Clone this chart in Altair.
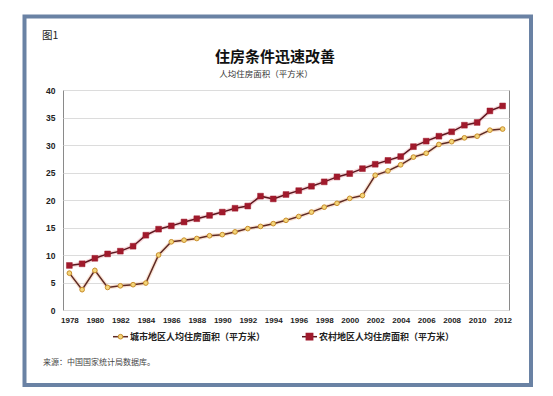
import altair as alt
import pandas as pd

years = list(range(1978, 2013))
urban = [6.7, 3.7, 7.2, 4.1, 4.4, 4.6, 4.9, 10.0, 12.4, 12.7, 13.0, 13.5, 13.7, 14.2, 14.8,
         15.2, 15.7, 16.3, 17.0, 17.8, 18.7, 19.4, 20.3, 20.8, 24.5, 25.3, 26.4, 27.8, 28.5,
         30.1, 30.6, 31.3, 31.6, 32.7, 32.9]
rural = [8.1, 8.4, 9.4, 10.2, 10.7, 11.6, 13.6, 14.7, 15.3, 16.0, 16.6, 17.2, 17.8, 18.5, 18.9,
         20.7, 20.2, 21.0, 21.7, 22.5, 23.3, 24.2, 24.8, 25.7, 26.5, 27.2, 27.9, 29.7, 30.7,
         31.6, 32.4, 33.6, 34.1, 36.2, 37.1]
series_names = ["城市地区人均住房面积（平方米）", "农村地区人均住房面积（平方米）"]
x_tick_labels = list(range(1978, 2013, 2))
y_tick_labels = [0, 5, 10, 15, 20, 25, 30, 35, 40]
fig_label = "图1"
title_text = "住房条件迅速改善"
subtitle_text = "人均住房面积（平方米）"
source_text = "来源：中国国家统计局数据库。"

FONT = "Noto Sans CJK SC"
LFONT = "Liberation Sans"

df_u = pd.DataFrame({"year": years, "value": urban, "series": series_names[0]})
df_r = pd.DataFrame({"year": years, "value": rural, "series": series_names[1]})

x_enc = alt.X("year:Q", scale=alt.Scale(domain=[1977.5, 2012.5], nice=False, zero=False),
              axis=alt.Axis(values=x_tick_labels, format="d", title=None, grid=False, ticks=False,
                            domain=False, labelFont=LFONT, labelFontSize=8, labelFontWeight="bold",
                            labelColor="#222", labelPadding=6, labelFlush=False))
y_enc = alt.Y("value:Q", scale=alt.Scale(domain=[0, 40], nice=False),
              axis=alt.Axis(values=y_tick_labels, title=None, grid=True, gridColor="#dcdcdc",
                            ticks=False, domain=False, labelFont=LFONT, labelFontSize=8.5,
                            labelFontWeight="bold", labelColor="#222", labelPadding=8))

U_LINE, U_FILL, U_STROKE = "#5e2a24", "#f3d57a", "#c98f2c"
R_LINE, R_FILL = "#5c161e", "#a01a2c"

glow_u = alt.Chart(df_u).mark_line(color="#f0b080", strokeWidth=4, opacity=0.35).encode(x=x_enc, y=y_enc)
glow_r = alt.Chart(df_r).mark_line(color="#e89098", strokeWidth=4, opacity=0.35).encode(x=x_enc, y=y_enc)
line_u = alt.Chart(df_u).mark_line(color=U_LINE, strokeWidth=1.5).encode(x=x_enc, y=y_enc)
line_r = alt.Chart(df_r).mark_line(color=R_LINE, strokeWidth=1.5).encode(x=x_enc, y=y_enc)
pts_u = alt.Chart(df_u).mark_point(shape="circle", filled=True, fill=U_FILL, stroke=U_STROKE,
                                   strokeWidth=1, size=22, opacity=1).encode(x=x_enc, y=y_enc)
pts_r = alt.Chart(df_r).mark_point(shape="square", filled=True, fill=R_FILL, stroke=R_FILL,
                                   strokeWidth=0.5, size=34, opacity=1).encode(x=x_enc, y=y_enc)

one = pd.DataFrame({"a": [0]})

frame = alt.Chart(one).mark_rect(fill=None, stroke="#6a82a4", strokeWidth=4, clip=False).encode(
    x=alt.value(-38.5), x2=alt.value(468), y=alt.value(-73.5), y2=alt.value(295))

def txt(s, x, y, size, weight="normal", align="left", color="#222", font=FONT):
    return alt.Chart(pd.DataFrame({"t": [s]})).mark_text(
        align=align, baseline="middle", fontSize=size, fontWeight=weight, color=color,
        font=font, clip=False).encode(x=alt.value(x), y=alt.value(y), text="t:N")

t_fig = txt(fig_label, -21, -54, 10.5, color="#222")
t_title = txt(title_text, 212, -33, 15, weight="bold", align="center", color="#111")
t_sub = txt(subtitle_text, 203, -16.5, 8.5, align="center", color="#333")
t_src = txt(source_text, -20, 273, 8, color="#444")

# manual legend
leg_u_line = alt.Chart(one).mark_rule(color=U_LINE, strokeWidth=1.5).encode(
    x=alt.value(50), x2=alt.value(65), y=alt.value(246.7))
leg_u_pt = alt.Chart(one).mark_point(shape="circle", filled=True, fill=U_FILL, stroke=U_STROKE,
                                     strokeWidth=1, size=22, opacity=1).encode(
    x=alt.value(57.5), y=alt.value(246.7))
leg_u_txt = txt(series_names[0], 67, 246.7, 9, weight="bold", color="#222")
leg_r_line = alt.Chart(one).mark_rule(color=R_LINE, strokeWidth=1.5).encode(
    x=alt.value(239), x2=alt.value(254), y=alt.value(246.7))
leg_r_pt = alt.Chart(one).mark_point(shape="square", filled=True, fill=R_FILL, stroke=R_FILL,
                                     size=34, opacity=1).encode(x=alt.value(246.5), y=alt.value(246.7))
leg_r_txt = txt(series_names[1], 256, 246.7, 9, weight="bold", color="#222")

chart = alt.layer(
    glow_u, glow_r, line_u, line_r, pts_u, pts_r,
    frame, t_fig, t_title, t_sub, t_src,
    leg_u_line, leg_u_pt, leg_u_txt, leg_r_line, leg_r_pt, leg_r_txt,
).properties(
    width=446, height=220,
    autosize=alt.AutoSizeParams(type="none"),
    padding={"left": 55, "top": 82, "right": 36, "bottom": 78},
    background="white",
).configure_view(stroke="#8a8a8a", strokeWidth=1)

chart.save("out.html", embed_options={"renderer": "svg", "actions": False})
